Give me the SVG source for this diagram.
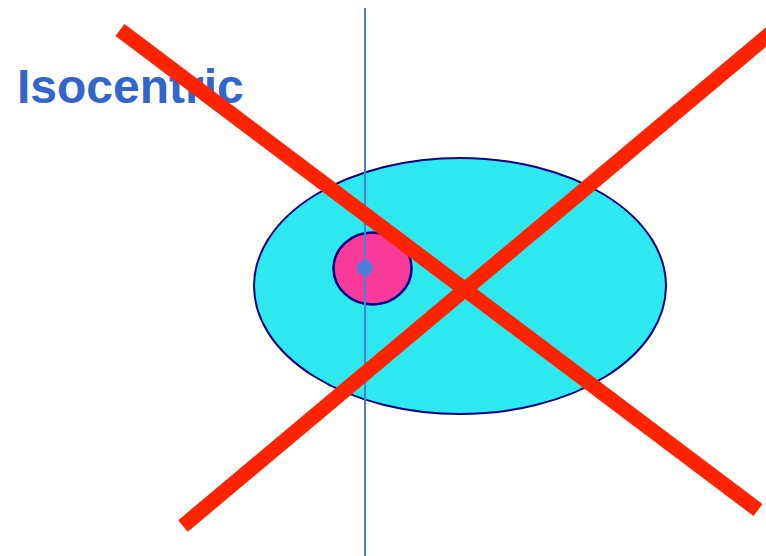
<svg xmlns="http://www.w3.org/2000/svg" width="766" height="556" viewBox="0 0 766 556">
<style>
.title{font-family:"Liberation Sans",Arial,sans-serif;font-weight:bold;font-size:48px;fill:#3366cc}
.cross{stroke:#ff2400;stroke-width:15;stroke-linecap:butt;fill:none}
</style>
<rect width="766" height="556" fill="#ffffff"/>
<text class="title" x="17" y="103">Isocentric</text>
<g id="body">
<ellipse cx="460" cy="286" rx="206" ry="128" fill="#2de8ee" stroke="#000080" stroke-width="2"/>
</g>
<g id="target">
<ellipse cx="372.5" cy="268.5" rx="39" ry="36" fill="#f93a9a" stroke="#000080" stroke-width="2.5"/>
</g>
<g id="axis">
<line x1="365" y1="8" x2="365" y2="556" stroke="#4a7fdc" stroke-width="2"/>
<circle cx="365" cy="268" r="8" fill="#4a7fdc"/>
</g>
<g id="cross">
<line class="cross" x1="120" y1="30" x2="758" y2="510"/>
<line class="cross" x1="183" y1="526" x2="772" y2="32"/>
</g>
</svg>
